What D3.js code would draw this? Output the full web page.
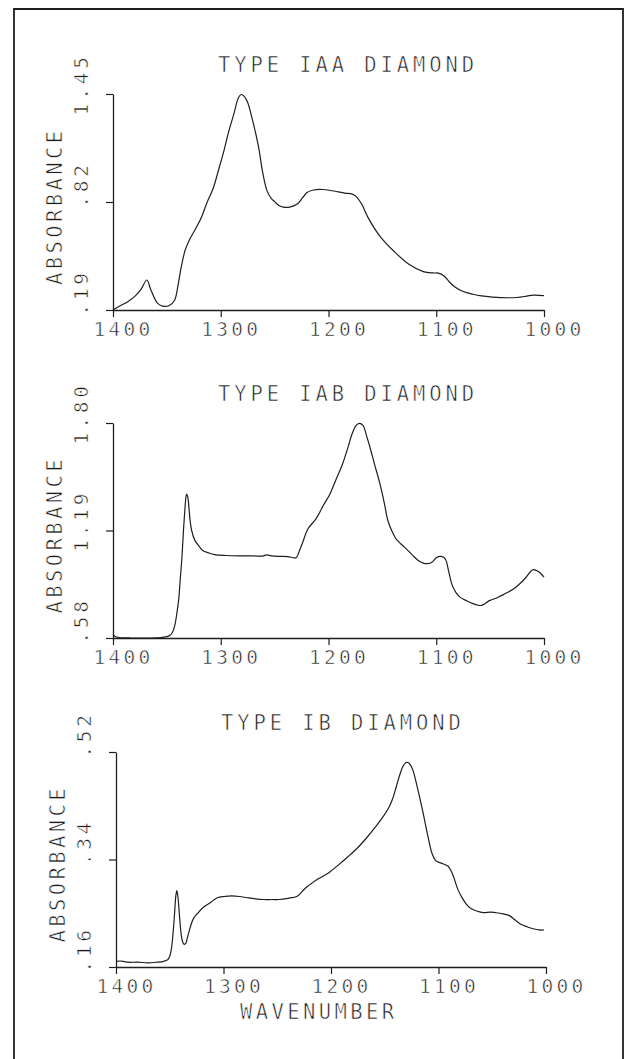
<!DOCTYPE html>
<html>
<head>
<meta charset="utf-8">
<script src="https://cdn.jsdelivr.net/npm/d3@7"></script>
<style>
  html, body { margin: 0; padding: 0; background: #fff; }
  svg { display: block; }
  /* plotter lettering is thin: shave the glyph edges a little */
  svg text { stroke: #fff; stroke-width: 0.6px; paint-order: fill stroke; }
</style>
</head>
<body>
<svg id="chart" width="624" height="1059"></svg>
<script>
// data
const titles = ["TYPE IAA DIAMOND", "TYPE IAB DIAMOND", "TYPE IB DIAMOND"];
const wavenumberTicks = [1400, 1300, 1200, 1100, 1000];
const yTicksIaA = [0.19, 0.82, 1.45];
const yTicksIaB = [0.58, 1.19, 1.80];
const yTicksIb = [0.16, 0.34, 0.52];
const yLabelsIaA = [".19", ".82", "1.45"];
const yLabelsIaB = [".58", "1.19", "1.80"];
const yLabelsIb = [".16", ".34", ".52"];

// [wavenumber, absorbance]
const spectrumIaA = [
  [1400, 0.19], [1394.5, 0.21], [1386, 0.24], [1380, 0.268], [1374, 0.31], [1368.6, 0.365],
  [1365, 0.31], [1359, 0.232], [1354, 0.213], [1348, 0.215], [1343, 0.245],
  [1339.5, 0.34], [1337, 0.43], [1333, 0.54], [1329, 0.6], [1324, 0.657], [1318, 0.73], [1313, 0.813],
  [1307, 0.9], [1302, 1.008], [1297, 1.12], [1293, 1.222], [1288, 1.33], [1283.5, 1.43],
  [1281, 1.447], [1278, 1.435], [1275, 1.4], [1270.6, 1.30], [1265, 1.144], [1261, 0.99],
  [1257, 0.885], [1253, 0.84], [1250, 0.822], [1246, 0.8], [1242, 0.79], [1236, 0.79],
  [1229, 0.808], [1224, 0.845], [1220, 0.875], [1214, 0.89], [1206, 0.893], [1195, 0.884],
  [1185, 0.872], [1178, 0.866], [1174, 0.85], [1169, 0.805], [1163, 0.726], [1152, 0.618],
  [1139, 0.531], [1125, 0.455], [1112, 0.414], [1103, 0.406], [1098, 0.405], [1093, 0.39],
  [1088, 0.355], [1083, 0.326], [1075, 0.298], [1066, 0.282], [1058, 0.272], [1048, 0.265],
  [1040, 0.262], [1025, 0.263], [1016, 0.271], [1010, 0.277], [1000, 0.274]
];

const spectrumIaB = [
  [1400, 0.6], [1398, 0.588], [1394.5, 0.583], [1383, 0.58], [1365, 0.58], [1354, 0.584],
  [1348, 0.592], [1345, 0.61], [1342.7, 0.65], [1340.5, 0.73], [1339, 0.8], [1337.5, 0.92],
  [1336, 1.04], [1334.5, 1.2], [1333.5, 1.29], [1332.3, 1.38], [1331.6, 1.397], [1330.6, 1.38],
  [1329.8, 1.34], [1328.5, 1.25], [1327, 1.19], [1324, 1.134], [1320, 1.1], [1316.8, 1.077],
  [1311, 1.062], [1305.7, 1.053], [1295, 1.048], [1283.5, 1.046], [1270, 1.046], [1261, 1.045],
  [1257.4, 1.052], [1253, 1.046], [1246.6, 1.043], [1238, 1.042], [1230, 1.036], [1227, 1.075],
  [1224.4, 1.115], [1219, 1.2], [1211.5, 1.257], [1205, 1.33], [1198.5, 1.399], [1193, 1.48],
  [1187.4, 1.56], [1182, 1.66], [1178, 1.74], [1174.5, 1.785], [1171.5, 1.798], [1168, 1.787],
  [1164.8, 1.73], [1161.6, 1.664], [1157, 1.56], [1152.3, 1.456], [1148, 1.34], [1145, 1.248],
  [1141, 1.185], [1137.5, 1.144], [1133, 1.115], [1128, 1.087], [1122, 1.05], [1117, 1.021],
  [1112, 1.005], [1108, 1.002], [1104, 1.01], [1100, 1.035], [1096.9, 1.043], [1093.5, 1.04],
  [1091.3, 1.025], [1088.5, 0.96], [1085.8, 0.89], [1082, 0.84], [1078, 0.812], [1072, 0.792],
  [1066, 0.775], [1061, 0.766], [1058, 0.765], [1054, 0.778], [1050.6, 0.792], [1043, 0.81],
  [1035.9, 0.832], [1029, 0.855], [1023, 0.885], [1017, 0.922], [1012, 0.96], [1010, 0.968],
  [1007, 0.963], [1004.6, 0.955], [1000, 0.926]
];

const spectrumIb = [
  [1400, 0.1695], [1395, 0.17], [1389, 0.168], [1380, 0.168], [1370, 0.167], [1362, 0.168],
  [1355.6, 0.1695], [1352, 0.172], [1350, 0.178], [1348.5, 0.19], [1347, 0.215], [1345.5, 0.25],
  [1344.3, 0.28], [1343.4, 0.288], [1342.3, 0.276], [1340.9, 0.245], [1339.4, 0.215],
  [1338, 0.202], [1336.5, 0.198], [1335, 0.2], [1333.5, 0.21], [1331, 0.226], [1328, 0.241],
  [1324, 0.25], [1318.7, 0.26], [1312, 0.268], [1305.7, 0.276], [1299, 0.278], [1292.8, 0.279],
  [1285, 0.278], [1278, 0.276], [1270, 0.274], [1263, 0.273], [1255, 0.273], [1248.4, 0.273],
  [1240, 0.275], [1231.8, 0.278], [1228, 0.284], [1224.4, 0.291], [1218, 0.3], [1211.5, 0.308],
  [1202, 0.318], [1193, 0.331], [1184, 0.345], [1174.5, 0.361], [1167, 0.376], [1159.7, 0.392],
  [1153, 0.408], [1146.8, 0.425], [1143, 0.44], [1139.4, 0.461], [1136, 0.482], [1133, 0.496],
  [1130.5, 0.502], [1128, 0.502], [1126, 0.498], [1123.5, 0.488], [1120.9, 0.47], [1117, 0.44],
  [1113.5, 0.411], [1110, 0.38], [1106, 0.35], [1103, 0.339], [1100.5, 0.336], [1096, 0.333],
  [1091.3, 0.329], [1088, 0.32], [1085.8, 0.31], [1082, 0.29], [1078.4, 0.277], [1074, 0.265],
  [1069, 0.257], [1063, 0.253], [1058, 0.251], [1052, 0.252], [1047, 0.251], [1040, 0.249],
  [1034, 0.246], [1029, 0.239], [1023, 0.231], [1017, 0.227], [1012, 0.224], [1006, 0.222],
  [1002, 0.222]
];

const spectra = [spectrumIaA, spectrumIaB, spectrumIb];
const yTicks = [yTicksIaA, yTicksIaB, yTicksIb];
const yLabels = [yLabelsIaA, yLabelsIaB, yLabelsIb];

// panel layout (pixels)
const panels = [
  { x0: 113, x1: 544, yTop: 94, yBot: 310 },
  { x0: 113, x1: 544, yTop: 423, yBot: 638 },
  { x0: 116, x1: 546, yTop: 752, yBot: 967 }
];

const ink = "#1e1e1e";
const font = "'DejaVu Sans Mono', monospace";

const svg = d3.select("#chart");

// outer frame of the figure
svg.append("path")
  .attr("d", "M14,1059V9H623V1059")
  .attr("fill", "none")
  .attr("stroke", ink)
  .attr("stroke-width", 1.8);

panels.forEach((p, i) => {
  const x = d3.scaleLinear().domain([1400, 1000]).range([p.x0, p.x1]);
  const y = d3.scaleLinear().domain([yTicks[i][0], yTicks[i][2]]).range([p.yBot, p.yTop]);
  const g = svg.append("g");

  // x axis
  const xAxis = g.append("g")
    .attr("transform", `translate(0,${p.yBot})`)
    .call(d3.axisBottom(x).tickValues(wavenumberTicks).tickSize(7).tickSizeOuter(0).tickFormat(d => d));
  xAxis.select(".domain").attr("stroke", ink).attr("stroke-width", 1.3);
  xAxis.selectAll(".tick line").attr("stroke", ink).attr("stroke-width", 1.2);
  xAxis.selectAll(".tick text")
    .attr("y", 26)
    .attr("dy", 0)
    .attr("dx", 10)
    .attr("fill", ink)
    .style("font-family", font)
    .style("font-size", "19.5px")
    .style("letter-spacing", "3.3px");

  // y axis
  const yAxis = g.append("g")
    .attr("transform", `translate(${p.x0},0)`)
    .call(d3.axisLeft(y).tickValues(yTicks[i]).tickSize(7).tickSizeOuter(0).tickFormat(""));
  yAxis.select(".domain").attr("stroke", ink).attr("stroke-width", 1.3);
  yAxis.selectAll(".tick line").attr("stroke", ink).attr("stroke-width", 1.2);

  // rotated y tick labels, decimal point sitting on the tick
  const ls = 3.8, fs = 19.5;
  const pitch = fs * 0.602 + ls;
  yLabels[i].forEach((lab, k) => {
    const nInt = lab.indexOf(".");
    const ty = y(yTicks[i][k]) + nInt * pitch + fs * 0.301;
    g.append("text")
      .attr("transform", `translate(${p.x0 - 25},${ty}) rotate(-90)`)
      .attr("fill", ink)
      .style("font-family", font)
      .style("font-size", fs + "px")
      .style("letter-spacing", ls + "px")
      .text(lab);
  });

  // axis title
  g.append("text")
    .attr("transform", `translate(${p.x0 - 51},${(p.yTop + p.yBot) / 2 + 3 + 80}) rotate(-90)`)
    .attr("fill", ink)
    .style("font-family", font)
    .style("font-size", "20.5px")
    .style("letter-spacing", "3.4px")
    .text("ABSORBANCE");

  // panel title
  g.append("text")
    .attr("x", p.x0 + 105)
    .attr("y", p.yTop - 22)
    .attr("fill", ink)
    .style("font-family", font)
    .style("font-size", "20.5px")
    .style("letter-spacing", "3.9px")
    .text(titles[i]);

  // spectrum
  const line = d3.line()
    .x(d => x(d[0]))
    .y(d => y(d[1]))
    .curve(d3.curveCatmullRom.alpha(0.5));
  g.append("path")
    .datum(spectra[i])
    .attr("d", line)
    .attr("fill", "none")
    .attr("stroke", ink)
    .attr("stroke-width", 1.2)
    .attr("stroke-linejoin", "round");

  if (i === panels.length - 1) {
    g.append("text")
      .attr("x", p.x0 + 124)
      .attr("y", p.yBot + 52)
      .attr("fill", ink)
      .style("font-family", font)
      .style("font-size", "20.5px")
      .style("letter-spacing", "3.4px")
      .text("WAVENUMBER");
  }
});
</script>
</body>
</html>
